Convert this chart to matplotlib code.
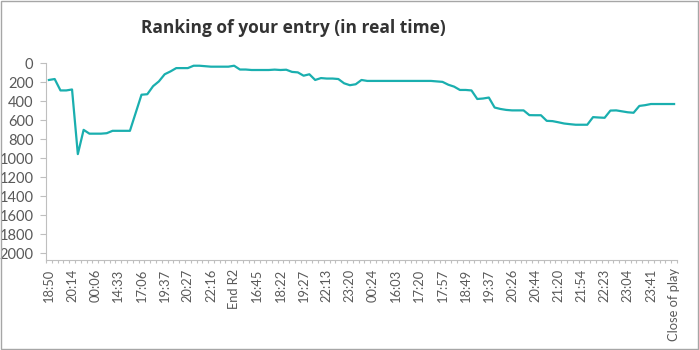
import matplotlib
matplotlib.use('Agg')
import matplotlib.pyplot as plt
import matplotlib.patches as mpatches
import numpy as np

# rank over time, one value per update (109 updates)
ranks = [
    175, 165, 285, 285, 275, 955, 700, 740, 740, 740,
    735, 710, 710, 710, 710, 520, 330, 325, 240, 190,
    115, 85, 50, 50, 50, 25, 25, 30, 35, 35,
    35, 35, 25, 65, 65, 70, 70, 70, 70, 66,
    70, 67, 90, 95, 130, 115, 175, 155, 160, 160,
    165, 210, 230, 220, 175, 185, 185, 185, 185, 185,
    185, 185, 185, 185, 185, 185, 185, 190, 195, 225,
    245, 280, 280, 285, 375, 370, 360, 465, 480, 490,
    495, 495, 495, 545, 546, 546, 605, 608, 620, 633,
    640, 646, 646, 646, 566, 570, 573, 497, 495, 505,
    515, 520, 448, 440, 428, 428, 428, 428, 428,
]

# every 4th update gets a label
tick_labels = [
    '18:50', '20:14', '00:06', '14:33', '17:06', '19:37', '20:27', '22:16',
    'End R2', '16:45', '18:22', '19:27', '22:13', '23:20', '00:24', '16:03',
    '17:20', '17:57', '18:49', '19:37', '20:26', '20:44', '21:20', '21:54',
    '22:23', '23:04', '23:41', 'Close of play',
]
label_step = 4

plt.rcParams['font.family'] = ['Lato', 'DejaVu Sans']

fig = plt.figure(figsize=(6.99, 3.5), dpi=100)
ax = fig.add_axes([0.0658, 0.257, 0.9027, 0.562])

x = np.arange(len(ranks))
ax.plot(x, ranks, color='#1AAFAF', linewidth=1.6)

ax.set_xlim(-0.5, len(ranks) - 0.5)
ax.set_ylim(2070, 0)
ax.set_yticks(range(0, 2001, 200))
ax.set_yticklabels([str(v) for v in range(0, 2001, 200)])

ax.set_xticks(x[::label_step])
ax.set_xticklabels(tick_labels, rotation=90, ha='center', va='top')
ax.set_xticks(np.arange(-0.5, len(ranks), 1), minor=True)

grey = '#595959'
ax.tick_params(axis='x', which='major', length=0, pad=6, labelsize=9.3, labelcolor=grey)
ax.tick_params(axis='x', which='minor', length=2.5, color='#bfbfbf', width=0.8)
ax.tick_params(axis='y', length=4, width=0.8, color='#bfbfbf', pad=5, labelsize=10.5, labelcolor=grey)

for side in ['top', 'right']:
    ax.spines[side].set_visible(False)
for side in ['left', 'bottom']:
    ax.spines[side].set_color('#bfbfbf')
    ax.spines[side].set_linewidth(0.8)

fig.text(0.419, 0.92, 'Ranking of your entry (in real time)', ha='center', va='center',
         fontsize=12.5, fontweight='bold', color='#333333', family='Open Sans')

# thin frame round the whole chart
fig.patches.append(mpatches.Rectangle((0.001, 0.002), 0.998, 0.996, transform=fig.transFigure,
                                      fill=False, edgecolor='#a6a6a6', linewidth=1))

fig.savefig('out.png', dpi=100)
